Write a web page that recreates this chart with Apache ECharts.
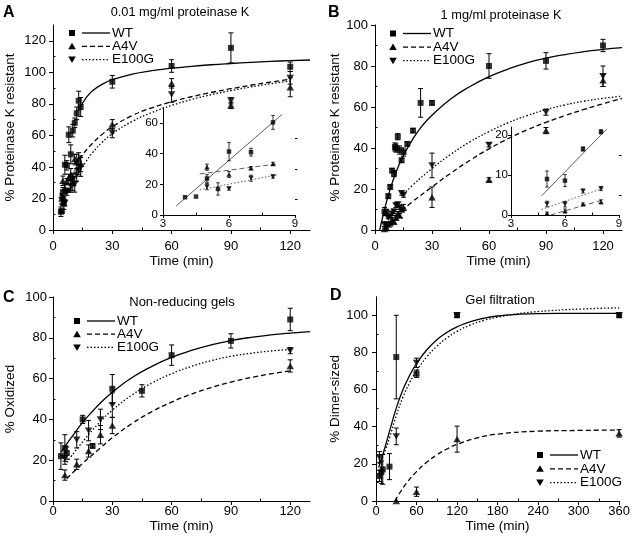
<!DOCTYPE html>
<html><head><meta charset="utf-8">
<script src="https://cdn.jsdelivr.net/npm/echarts@6/dist/echarts.min.js"></script>
<style>html,body{margin:0;padding:0;background:#fff}#c{width:633px;height:540px}</style>
</head><body><div id="c"></div>
<script>
// ---------------- DATA ([time, value, error]) ----------------
// Panel A: 0.01 mg/ml proteinase K
const A_WT = [[4,11.6,3],[4.5,12,1],[5,24,3],[5.5,17,4],[6,41.4,6],[7,41,3],[8,60.4,5],[9,48,6],[10,63,4],[11,68,3],[12,74,4],[13,82,6],[14,78,6],[30,94,4],[60,104,4],[90,115.5,9.5],[120,103.5,3]];
const A_A4V = [[4.5,20,3],[5,31.2,3],[6,26.4,3],[7,30.6,2],[8,33.4,2],[9,35,4],[10,30,5],[11,45,3],[12,43,5],[13,45,4],[14,42,5],[30,67,3],[60,93,3],[90,79,2],[120,90.5,6]];
const A_E100G = [[4.5,19,3],[5,18.5,3],[6,17.2,2],[7,24,2],[8,25,1],[9,28,4],[10,32,4],[11,29,5],[12,35,4],[13,38,3],[14,40,6],[30,61.5,3],[60,86,5],[90,82,2],[120,96.5,4]];
const A_WT_fit = [[13.5,77],[15,80.5],[17.5,85],[20,88.3],[25,92.5],[30,95.3],[40,98.8],[50,101],[60,102.6],[70,103.8],[80,104.8],[90,105.6],[100,106.3],[110,106.9],[120,107.4],[130,107.8]];
const A_A4V_fit = [[13,45],[15,48],[20,55],[25,60.8],[30,65.5],[40,72.5],[50,77.5],[60,81.3],[70,84.5],[80,87.2],[90,89.6],[100,91.8],[110,93.8],[120,95.6]];
const A_E100G_fit = [[14,38],[17,44],[20,49],[25,55.8],[30,61],[40,68.8],[50,74.5],[60,79],[70,82.7],[80,85.8],[90,88.4],[100,90.7],[110,92.7],[120,94.5]];
// Panel A inset
const Ai_WT = [[4,11.6,0],[4.5,12,0],[5,23.8,2.5],[5.5,17,4],[6,41.4,6],[7,41,2.5],[8,60.4,4.5]];
const Ai_A4V = [[5,31.2,2],[6,26.4,2],[7,30.6,1],[8,33.4,1]];
const Ai_E100G = [[5,18.5,2],[6,17.2,1],[7,24,2],[8,25,1]];
const Ai_WT_fit = [[3.6,5.9],[8.4,65.5]];
const Ai_A4V_fit = [[4.67,26.8],[8.25,33.4]];
const Ai_E100G_fit = [[4.67,16.4],[8.25,26.4]];
// Panel B: 1 mg/ml proteinase K
const B_WT = [[5,9,2],[6,8.6,1.5],[7,16.5,1],[8,21,1],[9,29,1],[10,27.5,1.5],[10.5,40.5,2],[11,40,2],[12,45.5,1.5],[13,39,2],[14,34,1],[15,38,2],[17,42,1],[20,48.5,1],[24,62,7],[30,62,1],[60,80,6],[90,82.5,4],[120,90,3]];
const B_A4V = [[5,0.4,0.5],[6,1,0.5],[7,2.7,0.5],[8,3.3,0.5],[9,5,1],[10,4,1],[11,6,1],[12,8,1],[13,7,1],[14,10,1],[15,11,1.5],[30,16,5],[60,24.5,1],[90,48.5,1.5],[120,73,3]];
const B_E100G = [[5,2.7,1],[6,2.7,1],[7,6,0.5],[8,6.6,0.5],[9,8,1],[10,9,1],[11,12,1],[12,12.5,1],[13,11,1],[14,18,1],[15,17,1],[30,31.5,6],[60,41.5,1],[90,57.5,1.5],[120,75,5]];
const B_WT_fit = [[2.5,0],[5,10],[7.5,18.5],[10,25.5],[12.5,31.5],[15,36.5],[20,44.5],[25,51],[30,56],[40,64],[50,70],[60,74.8],[70,78.5],[80,81.5],[90,83.8],[100,85.6],[110,87],[120,88.1],[130,89]];
const B_A4V_fit = [[14,9.5],[20,14],[30,21],[40,27.8],[50,34],[60,39.6],[70,44.5],[80,48.8],[90,52.5],[100,55.8],[110,58.8],[120,61.6],[130,64.2]];
const B_E100G_fit = [[15,17.5],[20,22],[30,30],[40,37],[50,43],[60,48],[70,52.3],[80,55.8],[90,58.7],[100,61],[110,62.8],[120,64.2],[130,65.3]];
// Panel B inset
const Bi_WT = [[5,9,2],[6,8.6,1.5],[7,16.5,0.5],[8,20.8,0.5]];
const Bi_A4V = [[5,0.4,0.3],[6,1,0.5],[7,2.7,0.3],[8,3.3,0.5]];
const Bi_E100G = [[5,2.75,0.7],[6,2.7,0.7],[7,6,0.5],[8,6.6,0.5]];
const Bi_WT_fit = [[4.7,4.8],[8.3,21.4]];
const Bi_A4V_fit = [[5.2,0],[8.2,3.9]];
const Bi_E100G_fit = [[4.7,1.4],[8.2,6.8]];
// Panel C: Non-reducing gels
const C_WT = [[4,22,6.5],[6,26,6.5],[7,23.5,3],[15,40,2],[20,27,1],[30,55,7],[45,54,3],[60,71.5,5],[90,78.5,3.5],[120,89,5.5]];
const C_A4V = [[6,12.7,2.5],[12,18,2.5],[18,24.5,3],[24,32.5,4.5],[30,37,4],[120,66.2,3]];
const C_E100G = [[6,21,3],[12,30,4],[18,34.5,5],[24,40,5],[30,47,6],[120,73.7,1.5]];
const C_WT_fit = [[4,24],[10,32],[15,38.5],[20,44],[25,49],[30,53.3],[40,60.5],[50,66],[60,70.4],[70,73.8],[80,76.5],[90,78.6],[100,80.2],[110,81.4],[120,82.3],[130,83]];
const C_A4V_fit = [[7,11],[15,18.5],[24,26],[30,31],[40,38],[50,43.8],[60,48.5],[70,52.4],[80,55.6],[90,58.3],[100,60.5],[110,62.3],[120,63.8]];
const C_E100G_fit = [[7,19],[15,29],[24,39],[30,44.5],[40,52],[50,57.8],[60,62.4],[70,66],[80,68.8],[90,70.9],[100,72.4],[110,73.5],[120,74.3]];
// Panel D: Gel filtration
const D_WT = [[5,13.5,3],[8,15.5,6],[10,17,8],[20,18.5,7],[30,77.5,22.5],[60,68.5,2],[120,100,1],[360,100,1]];
const D_A4V = [[30,0,0],[60,5,2.5],[120,33.3,7],[360,36.4,2]];
const D_E100G = [[5,23.6,3],[30,34.8,4.5],[60,74.4,2.5],[120,100,1],[360,100,1]];
const D_WT_fit = [[4,18],[10,25],[15,31],[20,37.5],[30,50],[40,60],[50,67.8],[60,74],[75,81.3],[90,86.8],[105,90.8],[120,93.8],[140,96.6],[160,98.4],[180,99.6],[210,100.5],[240,100.9],[300,101],[360,101]];
const D_A4V_fit = [[28,0],[35,4.2],[45,9.5],[60,15.8],[75,20.8],[90,24.8],[105,28],[120,30.5],[150,34],[180,36],[240,37.6],[300,38],[360,38.2]];
const D_E100G_fit = [[4,20],[10,24],[15,28.5],[20,34],[30,46],[40,56],[50,63.8],[60,70],[75,77.5],[90,83.3],[105,87.8],[120,91.3],[140,94.8],[160,97.3],[180,99],[210,100.8],[240,102],[300,103.3],[360,104]];

// Tick labels
const T_time120 = [0,30,60,90,120];
const T_time120_minor = [15,45,75,105];
const T_time360 = [0,60,120,180,240,300,360];
const T_time360_minor = [30,90,150,210,270,330];
const T_y120 = [0,20,40,60,80,100,120];
const T_y120_minor = [10,30,50,70,90,110];
const T_y100 = [0,20,40,60,80,100];
const T_y100_minor = [10,30,50,70,90];
const T_inset_x = [3,6,9];
const T_inset_x_minor = [4.5,7.5];
const T_insetA_y = [0,20,40,60];
const T_insetA_y_minor = [10,30,50];
const T_insetB_y = [0,10,20];
const T_insetB_y_minor = [5,15];

const names = ['WT','A4V','E100G'];
const FONT = '"Liberation Sans", Arial, Helvetica, sans-serif';

// ---------------- BUILD ----------------
const grids = [
  {left:53, top:25, width:257, height:205},          // A main
  {left:163, top:107.7, width:132, height:107.3},    // A inset
  {left:375, top:25, width:247, height:205},         // B main
  {left:511, top:127, width:108, height:88},         // B inset
  {left:53, top:297, width:257, height:204},         // C
  {left:376, top:296.7, width:246.3, height:204.3}   // D
];
const xAxes = [], yAxes = [];
function addAxes(list, dim, g, min, max, ticks, minor, o) {
  list.push({
    type:'value', gridIndex:g, min:min, max:max,
    axisLine:{show:true, onZero:false, lineStyle:{color:'#000', width:1}},
    axisTick:{show:true, inside:false, length:o.tl||4, customValues:ticks, lineStyle:{color:'#000', width:1}},
    axisLabel:{show:true, customValues:ticks, color:'#000', fontFamily:FONT, fontSize:o.fs||13, margin:o.margin},
    splitLine:{show:false},
    name:o.name||'', nameLocation:'middle', nameGap:o.nameGap||20,
    nameTextStyle:{color:'#000', fontFamily:FONT, fontSize:13.5}
  });
  list.push({
    type:'value', gridIndex:g, min:min, max:max,
    axisLine:{show:false},
    axisTick:{show:true, inside:false, length:2.5, customValues:minor, lineStyle:{color:'#000', width:1}},
    axisLabel:{show:false}, splitLine:{show:false}
  });
}
// A main (axes 0/1)
addAxes(xAxes,'x',0,0,130,T_time120,T_time120_minor,{margin:10,name:'Time (min)',nameGap:20});
addAxes(yAxes,'y',0,0,130,T_y120,T_y120_minor,{margin:7,name:'% Proteinase K resistant',nameGap:36});
// A inset (2/3)
addAxes(xAxes,'x',1,3,9,T_inset_x,T_inset_x_minor,{margin:3,fs:11.5,tl:3});
addAxes(yAxes,'y',1,0,70,T_insetA_y,T_insetA_y_minor,{margin:5,fs:11.5,tl:3});
// B main (4/5)
addAxes(xAxes,'x',2,0,130,T_time120,T_time120_minor,{margin:10,name:'Time (min)',nameGap:20});
addAxes(yAxes,'y',2,0,100,T_y100,T_y100_minor,{margin:7,name:'% Proteinase K resistant',nameGap:31});
// B inset (6/7)
addAxes(xAxes,'x',3,3,9,T_inset_x,T_inset_x_minor,{margin:3,fs:11.5,tl:3});
addAxes(yAxes,'y',3,0,22,T_insetB_y,T_insetB_y_minor,{margin:3,fs:11.5,tl:3});
// C (8/9)
addAxes(xAxes,'x',4,0,130,T_time120,T_time120_minor,{margin:4,name:'Time (min)',nameGap:13});
addAxes(yAxes,'y',4,0,100,T_y100,T_y100_minor,{margin:6,name:'% Oxidized',nameGap:36});
// D (10/11)
addAxes(xAxes,'x',5,0,360,T_time360,T_time360_minor,{margin:4,name:'Time (min)',nameGap:13});
addAxes(yAxes,'y',5,0,110,T_y100,T_y100_minor,{margin:8,name:'% Dimer-sized',nameGap:31});

const series = [];
const symbols = [{symbol:'rect', rot:0},{symbol:'triangle', rot:0},{symbol:'triangle', rot:180}];
const dashes = ['solid',[5,3],[1.5,2]];
function addPanel(g, pts, fits, inset) {
  const ai = g*2;
  for (let k=0;k<3;k++) {
    const lw = inset ? 0.8 : 1.3;
    series.push({type:'line', xAxisIndex:ai, yAxisIndex:ai, data:fits[k], smooth:inset?false:0.5,
      showSymbol:false, symbol:'none', silent:true, z:2,
      lineStyle:{color: inset ? '#333' : '#000', width:lw, type:dashes[k]}});
    const cap = inset ? 1.8 : 2.5;
    series.push({type:'custom', xAxisIndex:ai, yAxisIndex:ai, silent:true, z:3,
      data: pts[k].filter(p=>p[2]>0).map(p=>[p[0], p[1]-p[2], p[1]+p[2]]),
      encode:{x:0, y:[1,2]},
      renderItem:function(params, api){
        const lo = api.coord([api.value(0), api.value(1)]);
        const hi = api.coord([api.value(0), api.value(2)]);
        const st = {stroke:'#000', lineWidth: inset?0.8:1};
        return {type:'group', children:[
          {type:'line', shape:{x1:lo[0],y1:lo[1],x2:hi[0],y2:hi[1]}, style:st},
          {type:'line', shape:{x1:lo[0]-cap,y1:lo[1],x2:lo[0]+cap,y2:lo[1]}, style:st},
          {type:'line', shape:{x1:hi[0]-cap,y1:hi[1],x2:hi[0]+cap,y2:hi[1]}, style:st}
        ]};
      }});
    const sz = inset ? (k===0?4.5:5.5) : (k===0?6:7.5);
    series.push({type:'scatter', xAxisIndex:ai, yAxisIndex:ai, silent:true, z:4,
      data: pts[k].map(p=>[p[0],p[1]]), symbol:symbols[k].symbol, symbolRotate:symbols[k].rot,
      symbolSize: k===0 ? sz : [sz, sz*0.85], itemStyle:{color:'#000'}});
  }
}
addPanel(0,[A_WT,A_A4V,A_E100G],[A_WT_fit,A_A4V_fit,A_E100G_fit],false);
addPanel(1,[Ai_WT,Ai_A4V,Ai_E100G],[Ai_WT_fit,Ai_A4V_fit,Ai_E100G_fit],true);
addPanel(2,[B_WT,B_A4V,B_E100G],[B_WT_fit,B_A4V_fit,B_E100G_fit],false);
addPanel(3,[Bi_WT,Bi_A4V,Bi_E100G],[Bi_WT_fit,Bi_A4V_fit,Bi_E100G_fit],true);
addPanel(4,[C_WT,C_A4V,C_E100G],[C_WT_fit,C_A4V_fit,C_E100G_fit],false);
addPanel(5,[D_WT,D_A4V,D_E100G],[D_WT_fit,D_A4V_fit,D_E100G_fit],false);

// ---------------- TEXT / LEGENDS ----------------
const graphic = [];
function txt(x,y,t,size,bold,align){
  graphic.push({type:'text', x:x, y:y, silent:true, style:{text:t, fill:'#000', font:(bold?'bold ':'')+size+'px '+FONT,
    textAlign:align||'left', textVerticalAlign:'middle'}});
}
function legend(mx, y0, dy) {
  for (let k=0;k<3;k++) {
    const y = y0 + k*dy;
    if (k===0) graphic.push({type:'rect', silent:true, shape:{x:mx-3,y:y-3,width:6,height:6}, style:{fill:'#000'}});
    else if (k===1) graphic.push({type:'polygon', silent:true, shape:{points:[[mx,y-3.5],[mx-3.8,y+3],[mx+3.8,y+3]]}, style:{fill:'#000'}});
    else graphic.push({type:'polygon', silent:true, shape:{points:[[mx,y+3.5],[mx-3.8,y-3],[mx+3.8,y-3]]}, style:{fill:'#000'}});
    graphic.push({type:'line', silent:true, shape:{x1:mx+10,y1:y,x2:mx+38,y2:y},
      style:{stroke:'#000', lineWidth:1.3, lineDash: k===0?null:dashes[k]}});
    txt(mx+40, y, names[k], 13.5, false, 'left');
  }
}
legend(72, 33, 13.3);
legend(393, 33.5, 13.6);
legend(77, 321, 13.2);
legend(540, 455, 13.8);

txt(3,12.5,'A',16,true); txt(328,13,'B',16,true); txt(3,298,'C',16,true); txt(330,296,'D',16,true);
txt(180,12,'0.01 mg/ml proteinase K',12.8,false,'center');
txt(501,15,'1 mg/ml proteinase K',12.8,false,'center');
txt(182,302,'Non-reducing gels',13,false,'center');
txt(500,300,'Gel filtration',13,false,'center');

const chart = echarts.init(document.getElementById('c'), null, {renderer:'canvas'});
chart.setOption({
  backgroundColor:'#fff', animation:false,
  grid:grids, xAxis:xAxes, yAxis:yAxes, series:series, graphic:graphic
});
</script></body></html>
